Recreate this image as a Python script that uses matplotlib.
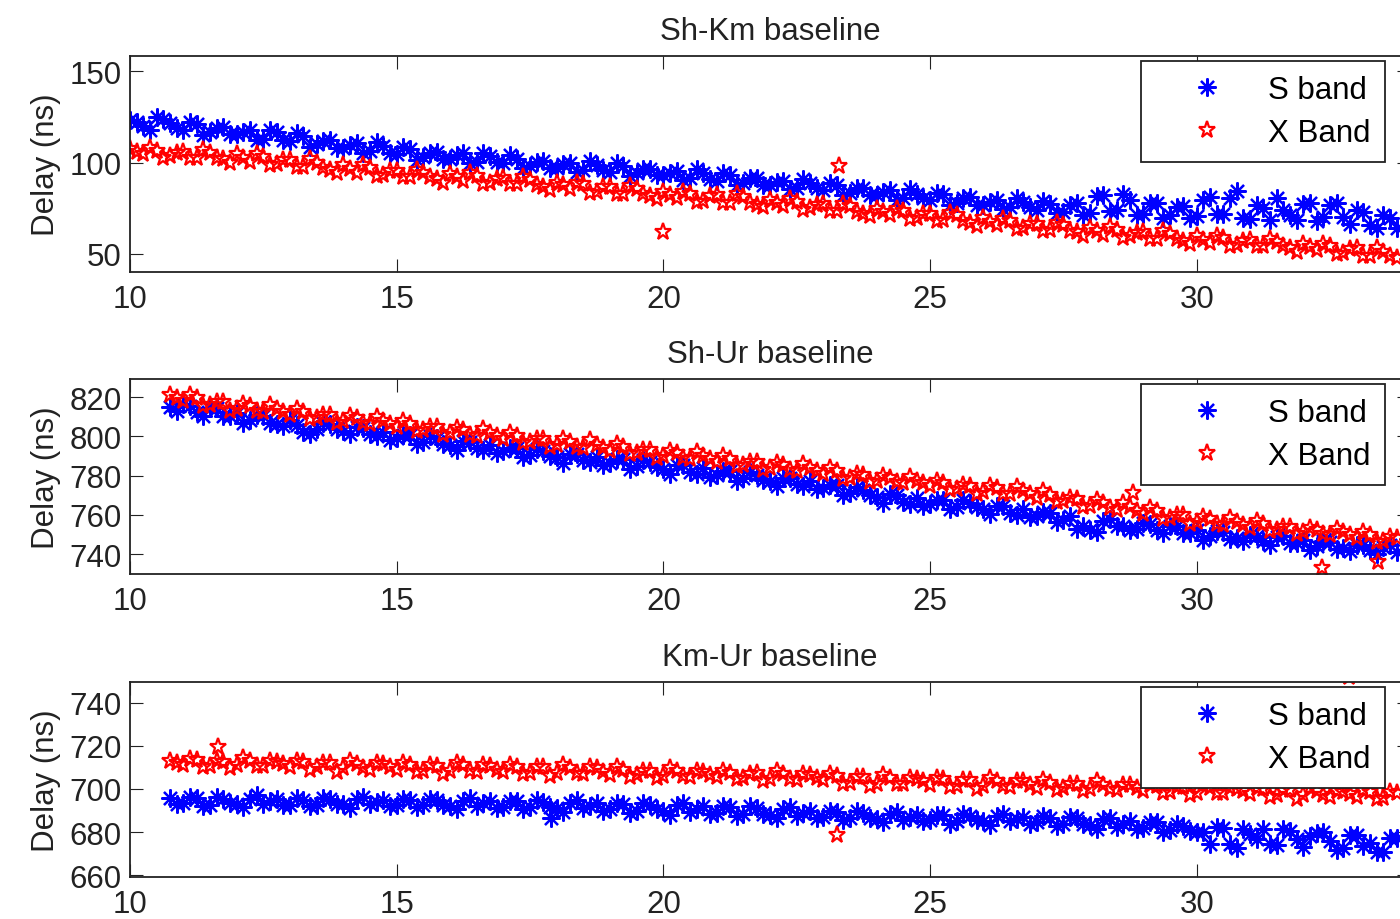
# delay vs time for the three baselines, S band and X band

import matplotlib
matplotlib.use('Agg')
import matplotlib.pyplot as plt

plt.rcParams['font.family'] = ['Liberation Sans', 'DejaVu Sans']
plt.rcParams['font.size'] = 22.5

# ---- data (time in h, delay in ns) ----
t_km = [10.0, 10.125, 10.25, 10.375, 10.5, 10.625, 10.75, 10.875,
        11.0, 11.125, 11.25, 11.375, 11.5, 11.625, 11.75, 11.875,
        12.0, 12.125, 12.25, 12.375, 12.5, 12.625, 12.75, 12.875,
        13.0, 13.125, 13.25, 13.375, 13.5, 13.625, 13.75, 13.875,
        14.0, 14.125, 14.25, 14.375, 14.5, 14.625, 14.75, 14.875,
        15.0, 15.125, 15.25, 15.375, 15.5, 15.625, 15.75, 15.875,
        16.0, 16.125, 16.25, 16.375, 16.5, 16.625, 16.75, 16.875,
        17.0, 17.125, 17.25, 17.375, 17.5, 17.625, 17.75, 17.875,
        18.0, 18.125, 18.25, 18.375, 18.5, 18.625, 18.75, 18.875,
        19.0, 19.125, 19.25, 19.375, 19.5, 19.625, 19.75, 19.875,
        20.0, 20.125, 20.25, 20.375, 20.5, 20.625, 20.75, 20.875,
        21.0, 21.125, 21.25, 21.375, 21.5, 21.625, 21.75, 21.875,
        22.0, 22.125, 22.25, 22.375, 22.5, 22.625, 22.75, 22.875,
        23.0, 23.125, 23.25, 23.375, 23.5, 23.625, 23.75, 23.875,
        24.0, 24.125, 24.25, 24.375, 24.5, 24.625, 24.75, 24.875,
        25.0, 25.125, 25.25, 25.375, 25.5, 25.625, 25.75, 25.875,
        26.0, 26.125, 26.25, 26.375, 26.5, 26.625, 26.75, 26.875,
        27.0, 27.125, 27.25, 27.375, 27.5, 27.625, 27.75, 27.875,
        28.0, 28.125, 28.25, 28.375, 28.5, 28.625, 28.75, 28.875,
        29.0, 29.125, 29.25, 29.375, 29.5, 29.625, 29.75, 29.875,
        30.0, 30.125, 30.25, 30.375, 30.5, 30.625, 30.75, 30.875,
        31.0, 31.125, 31.25, 31.375, 31.5, 31.625, 31.75, 31.875,
        32.0, 32.125, 32.25, 32.375, 32.5, 32.625, 32.75, 32.875,
        33.0, 33.125, 33.25, 33.375, 33.5, 33.625, 33.75]
t_ur = t_km[6:]   # the Ur baselines start at 10.75

# Sh-Km
shkm_s = [123.5, 122, 120, 118, 125, 124, 121.5, 119, 118, 122, 121, 115, 117, 119, 119.5, 115.5,
          115.5, 117, 118, 112.5, 113, 118, 116.5, 112.5, 112, 116, 114.5, 108.5, 110, 112, 112.5, 108,
          108, 109.5, 110.5, 105, 106.5, 111, 109, 105.5, 104.5, 108.5, 107.5, 101.5, 103, 105.5, 106, 102,
          102, 104, 105, 99.5, 100.5, 105.5, 103.5, 100.5, 99.5, 104, 102, 97, 98, 100.5, 101, 97,
          97, 99, 100, 95, 96, 101, 98.5, 96, 95, 99.5, 98, 92.5, 94, 96.5, 96.5, 93,
          93, 94.5, 95.5, 90.5, 91.5, 96.5, 94, 91, 90, 94.5, 93, 87.5, 89, 91.5, 91.5, 87.5,
          87.5, 89.5, 90, 85.5, 86, 91, 89, 86, 85, 89, 87.5, 82, 83.5, 86, 86, 82,
          82, 84, 85, 79.5, 80.5, 85.5, 83, 80.5, 79.5, 83.5, 82.5, 76.5, 78, 80.5, 81, 77,
          77, 78.5, 79.5, 74.5, 75.5, 80.5, 78.5, 75.5, 74, 79, 77.5, 72.5, 73, 77, 78, 71.5,
          72.5, 81.5, 82, 73.5, 74, 82.5, 79.5, 71, 72, 78, 78, 69.5, 71, 75.5, 76, 69.5,
          70.5, 79.5, 81, 72, 72, 80.5, 84.5, 69.5, 69, 76.5, 75, 68.5, 80.5, 74, 71, 68.5,
          77.5, 78, 68, 70, 77, 78, 70, 66.5, 74, 73, 66, 64, 71, 69.5, 64]
shkm_x = [107.5, 106, 104.5, 108, 106.5, 102.5, 103.5, 105.5, 106, 102.5, 102.5, 107, 105, 102.5, 102, 100,
          104.5, 102.5, 100.5, 104.5, 103, 98.5, 99, 101.5, 101.5, 97.5, 97.5, 102, 100, 97, 96, 94.5,
          98.5, 96.5, 94.5, 98.5, 97, 92.5, 93, 95.5, 95.5, 92, 92, 96, 94.5, 92, 91, 89,
          93.5, 92, 90, 94, 92.5, 88, 89, 91, 91.5, 88, 88, 92, 90.5, 87.5, 86.5, 85,
          89, 87.5, 85.5, 89, 88, 83.5, 84, 86.5, 86.5, 83, 83, 87, 85.5, 82.5, 81.5, 80,
          84, 82, 80.5, 84, 83, 78.5, 79, 81.5, 82, 78, 78, 82.5, 81, 78, 77, 75.5,
          79.5, 78, 76, 80, 78.5, 74, 75, 77, 77.5, 73.5, 73.5, 77.5, 76, 73, 72, 70.5,
          74.5, 73, 71, 74.5, 73.5, 69, 69.5, 72, 72, 68, 68.5, 72.5, 71, 68, 67, 65,
          69.5, 67.5, 65.5, 69, 68, 63.5, 64, 66.5, 66.5, 62.5, 63, 67, 65.5, 62.5, 62, 60,
          64, 62.5, 60.5, 64.5, 63, 58.5, 59.5, 61.5, 62, 58, 58, 62.5, 61, 58, 57, 55.5,
          59.5, 57.5, 56, 60, 58.5, 54, 55, 57, 57.5, 54, 54, 58, 56.5, 54, 53, 51,
          55.5, 53.5, 52, 55.5, 54, 50, 50.5, 52.5, 53, 48.5, 49, 53, 51, 48.5, 47.5]
shkm_x_odd_t = [20.0, 23.3]
shkm_x_odd = [62, 98]

# Sh-Ur
shur_s = [815, 813, 816.5, 815.5, 812.5, 810.5, 814.5, 814.5, 810.5, 810.5, 812, 807, 808.5, 811, 810.5, 807,
          806.5, 805.5, 808.5, 806, 802.5, 801, 804, 807, 806.5, 804, 803, 801, 805, 804.5, 801, 800,
          802.5, 798, 799, 800.5, 800.5, 796, 797, 800, 799, 796, 795.5, 793, 797.5, 797, 794, 793,
          795.5, 791.5, 792.5, 794, 794, 789.5, 790.5, 793.5, 792.5, 790, 789.5, 786.5, 791, 791, 788, 787,
          789.5, 785.5, 786.5, 788.5, 788.5, 783.5, 785, 788, 787, 784.5, 783.5, 781, 785.5, 785.5, 782, 781,
          784, 779.5, 780.5, 782.5, 782.5, 777.5, 779, 782, 780.5, 778, 777.5, 774.5, 779, 779, 775.5, 774.5,
          777, 773, 773.5, 775, 775, 770, 771, 774, 772.5, 770, 769, 766, 770.5, 770, 766.5, 765.5,
          768.5, 764.5, 765.5, 767.5, 767.5, 763, 764, 767.5, 766, 764, 763, 760.5, 764.5, 764.5, 761, 760,
          763, 759, 759.5, 761.5, 761, 756.5, 757.5, 759.5, 753, 754.5, 752.5, 751, 757, 758, 754.5, 754.5,
          752.5, 753, 756, 755.5, 752, 750.5, 754.5, 754.5, 750.5, 750.5, 752, 747, 749, 751.5, 751, 747.5,
          748, 746.5, 749.5, 749, 746.5, 744.5, 748.5, 749, 745.5, 745.5, 747, 742, 744, 746.5, 746, 742.5,
          743, 741.5, 744.5, 744.5, 742, 740, 743.5, 744.5, 741]
shur_x = [821, 819.5, 818, 821, 819.5, 815.5, 816, 817.5, 817.5, 813, 814, 816.5, 815.5, 813, 812.5, 816,
          814, 812.5, 811, 814, 812.5, 809, 809.5, 811, 811, 807, 808, 810.5, 809.5, 807, 806.5, 810,
          808, 806.5, 805, 808, 806.5, 803, 803.5, 805, 805, 800.5, 802, 804.5, 803.5, 800.5, 800, 804,
          801.5, 800, 798.5, 801.5, 800, 796.5, 797, 798.5, 798.5, 794.5, 795.5, 798.5, 797, 794.5, 794, 798,
          795.5, 794, 792.5, 796, 794.5, 791, 791.5, 793, 793, 789, 790, 792.5, 791.5, 789, 788.5, 792,
          790, 788.5, 787, 790, 788.5, 785, 785.5, 787, 787, 783, 784, 786.5, 785.5, 783, 782.5, 786,
          784, 782.5, 781, 784, 782.5, 778.5, 779, 781, 780.5, 776.5, 777.5, 780, 779, 776.5, 776, 779.5,
          777.5, 776, 774.5, 777.5, 776, 772.5, 773, 775, 774.5, 770.5, 771.5, 774.5, 773.5, 770.5, 770.5, 774,
          772, 770.5, 768.5, 772, 770, 766.5, 767, 768.5, 768, 764, 764.5, 767.5, 766, 763.5, 762.5, 766,
          764, 762, 760.5, 763.5, 762, 758, 758.5, 760, 760, 755.5, 756.5, 759, 758, 755.5, 755, 758.5,
          756.5, 755, 753.5, 757, 755.5, 751.5, 752.5, 754, 754, 750, 751, 753.5, 752.5, 750, 749.5, 753,
          751, 749.5, 748, 751, 749.5, 746, 746.5, 748.5, 748]
shur_x_odd_t = [28.8, 32.35, 33.4]
shur_x_odd = [771, 733, 736]

# Km-Ur
kmur_s = [696, 693, 693.5, 696.5, 696, 692, 692.5, 696.5, 695.5, 693.5, 693, 691.5, 695.5, 697, 693, 694.5,
          695.5, 692.5, 692.5, 696, 695, 692, 692.5, 696, 695.5, 693, 693, 691, 695.5, 696.5, 693, 694,
          695, 692, 692.5, 695.5, 695, 691.5, 692.5, 695.5, 695, 692.5, 692, 690.5, 694.5, 696, 692, 693.5,
          694.5, 691, 691.5, 694.5, 694.5, 690.5, 691.5, 695, 694, 691.5, 691, 689.5, 693.5, 695, 691, 692,
          693.5, 690, 690.5, 693.5, 693, 689, 690, 693.5, 692.5, 690.5, 690, 688, 692.5, 693.5, 689.5, 690.5,
          692, 688.5, 689, 692, 691.5, 687.5, 688.5, 692, 691, 688.5, 688, 686.5, 690.5, 691.5, 687.5, 689,
          690, 686.5, 687, 690, 689.5, 685.5, 686.5, 690, 689, 686.5, 686, 684.5, 688.5, 689.5, 685.5, 687,
          688, 685, 685.5, 688, 688, 684, 685, 688.5, 687.5, 685.5, 685, 683.5, 687.5, 688.5, 685, 686,
          687, 684, 684.5, 687.5, 686.5, 683, 684, 687, 686.5, 684, 683.5, 681.5, 686, 686.5, 682.5, 684,
          685, 681.5, 682, 684.5, 684.5, 680, 681, 684, 683, 680.5, 680, 680, 674.5, 682.5, 682, 674.5,
          672.5, 681.5, 679, 677, 681.5, 674.5, 674, 681.5, 680.5, 677, 673, 678, 679.5, 680, 676, 671.5,
          672.5, 678.5, 678.5, 673.5, 675, 671, 671, 677.5, 677.5]
kmur_x = [713, 712, 711, 714, 713.5, 710, 710.5, 713, 712.5, 709.5, 711, 714.5, 713, 710.5, 710.5, 713,
          712.5, 711.5, 710, 713, 712.5, 709, 710, 712, 712, 708, 709.5, 713, 711.5, 709.5, 709, 712,
          711.5, 710, 709, 712, 711, 708, 708.5, 711, 710.5, 707, 708.5, 712, 711, 708.5, 708, 711,
          710.5, 709, 708, 711, 710, 707, 707.5, 710, 710, 706, 707.5, 711, 709.5, 707.5, 707, 710,
          709.5, 708, 706.5, 710, 709, 705.5, 706.5, 708.5, 708.5, 705, 706, 709.5, 708.5, 706, 705.5, 708.5,
          708, 706.5, 705.5, 708.5, 707.5, 704.5, 705, 707, 707.5, 703.5, 704.5, 708.5, 707, 704.5, 704, 707,
          706.5, 705, 704, 707, 706, 702.5, 703, 705.5, 705.5, 701.5, 702.5, 706.5, 705, 702.5, 702.5, 705,
          704.5, 703.5, 702, 705, 704.5, 701, 701.5, 704, 704, 700, 701.5, 705, 703.5, 701.5, 701, 703.5,
          703.5, 702, 700.5, 704, 703, 699.5, 700.5, 702.5, 702.5, 699, 700, 703.5, 702, 700, 699.5, 702,
          702, 700.5, 699, 702, 701.5, 698, 698.5, 701, 701, 697, 698, 702, 700.5, 698, 698, 700.5,
          700, 699, 697.5, 700.5, 700, 696.5, 697, 699.5, 699.5, 695.5, 697, 700.5, 699, 697, 696.5, 699,
          698.5, 697.5, 696.5, 699.5, 698.5, 695.5, 696, 698.5, 698]
kmur_s_odd_t = [17.9]
kmur_s_odd = [686.5]
kmur_x_odd_t = [11.65, 23.25, 32.85]
kmur_x_odd = [719.5, 678.5, 752]

yticks_km = [50, 100, 150]
yticks_ur = [740, 760, 780, 800, 820]
yticks_kmur = [660, 680, 700, 720, 740]

# ---- figure ----
W, H = 1400, 920
fig = plt.figure(figsize=(14, 9.2), dpi=100)

s_style = dict(linestyle='none', marker=(8, 2, 0), ms=13, mew=1.6, color='blue')
x_style = dict(linestyle='none', marker='*', ms=12.5, mew=1.6, mfc='none', mec='red', color='red')

panels = [
    # title, top px, bottom px, t, S, X, S odd, X odd, ylim, yticks
    ('Sh-Km baseline', 57, 273, t_km, shkm_s, shkm_x, ([], []), (shkm_x_odd_t, shkm_x_odd),
     (40, 158.4), yticks_km),
    ('Sh-Ur baseline', 380, 575, t_ur, shur_s, shur_x, ([], []), (shur_x_odd_t, shur_x_odd),
     (729.8, 829.3), yticks_ur),
    ('Km-Ur baseline', 683, 878, t_ur, kmur_s, kmur_x, (kmur_s_odd_t, kmur_s_odd),
     (kmur_x_odd_t, kmur_x_odd), (659.2, 749.6), yticks_kmur),
]

for title, top, bot, t, s, x, s_odd, x_odd, ylim, yt in panels:
    ax = fig.add_axes([130 / W, 1 - bot / H, 1280 / W, (bot - top) / H])
    ax.plot(t, s, label='S band', **s_style)
    ax.plot(s_odd[0], s_odd[1], **s_style)
    ax.plot(t, x, label='X Band', **x_style)
    ax.plot(x_odd[0], x_odd[1], **x_style)

    ax.set_xlim(10, 34)
    ax.set_ylim(*ylim)
    ax.set_xticks([10, 15, 20, 25, 30])
    ax.set_yticks(yt)
    ax.set_title(title, pad=12, color='#222222', fontsize=22.5)
    ax.set_ylabel('Delay (ns)', color='#222222', labelpad=6)
    ax.tick_params(direction='in', length=9.5, width=0.8, top=True, right=True,
                   colors='#222222')
    ax.tick_params(axis='x', pad=9)
    ax.tick_params(axis='y', pad=6)
    for sp in ax.spines.values():
        sp.set_linewidth(1.3)
        sp.set_color('#222222')

    h = bot - top
    leg = ax.legend(loc='upper right', bbox_to_anchor=(1255 / 1280, 1 - 5 / h),
                    borderaxespad=0, fancybox=False, framealpha=1, edgecolor='#222222',
                    numpoints=1, handlelength=3.33, handletextpad=0.3,
                    borderpad=0.45, labelspacing=0.4)
    leg.get_frame().set_linewidth(1.3)

fig.savefig('out.png', dpi=100)
